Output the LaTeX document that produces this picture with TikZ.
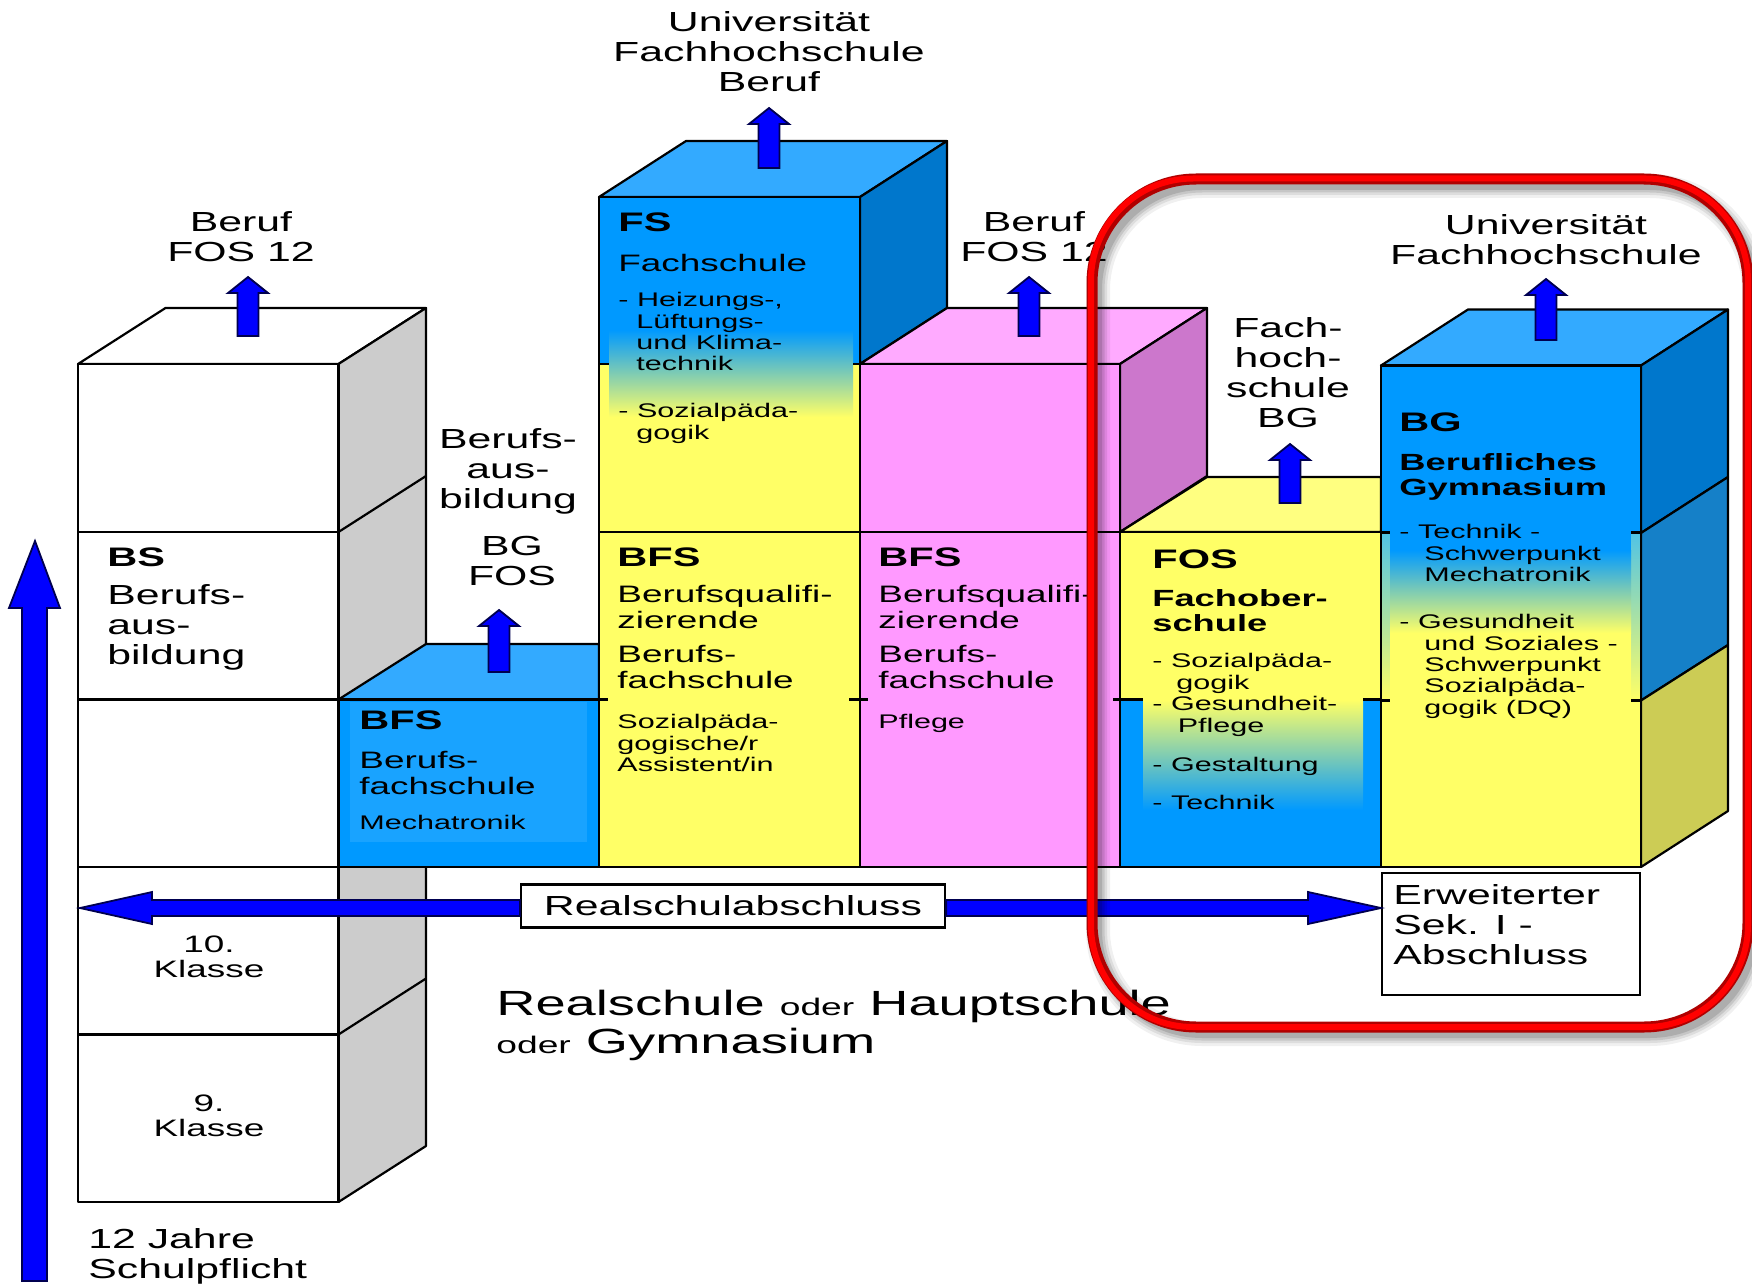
\documentclass[tikz,border=0pt]{standalone}
\usepackage{fontspec}
\setmainfont[FakeStretch=1.55]{Liberation Sans}
\definecolor{blu}{HTML}{0099FF}
\definecolor{blutop}{HTML}{33AAFF}
\definecolor{bluside}{HTML}{0077CC}
\definecolor{bluside2}{HTML}{1580C8}
\definecolor{yel}{HTML}{FFFF66}
\definecolor{yeltop}{HTML}{FFFF80}
\definecolor{yelside}{HTML}{CCCC55}
\definecolor{pnk}{HTML}{FF99FF}
\definecolor{pnktop}{HTML}{FFAAFF}
\definecolor{pnkside}{HTML}{CC77CC}
\definecolor{gry}{HTML}{CCCCCC}
\definecolor{arrowblue}{HTML}{0000FF}
\definecolor{arrowedge}{HTML}{000050}
\definecolor{framered}{HTML}{FF0000}
\definecolor{framedark}{HTML}{B00000}
\tikzset{
  edge/.style={draw=black,line width=1.1pt,line join=round},
  blockarrow/.style={fill=arrowblue,draw=arrowedge,line width=.9pt,line join=miter},
  big/.style={font=\fontsize{13.8}{15}\selectfont,inner sep=0pt},
  bigc/.style={big,align=center,anchor=north},
  bigl/.style={big,align=left,anchor=north west},
  head/.style={font=\fontsize{13.4}{15}\bfseries\selectfont,inner sep=0pt,anchor=north west},
  boldname/.style={font=\fontsize{11.7}{12.5}\bfseries\selectfont,inner sep=0pt,align=left,anchor=north west},
  medium/.style={font=\fontsize{11.9}{13}\selectfont,inner sep=0pt,align=left,anchor=north west},
  small/.style={font=\fontsize{9.85}{10.7}\selectfont,inner sep=0pt,align=left,anchor=north west},
  klasse/.style={font=\fontsize{11.9}{12.7}\selectfont,inner sep=0pt,align=center,anchor=north},
  title/.style={font=\fontsize{17.5}{19}\selectfont,inner sep=0pt,align=left,anchor=north west},
}
\newcommand{\blkup}[3]{% centre x, tip y, tail y
  \draw[blockarrow] (#1-10.5,#3) -- (#1-10.5,#2+16) -- (#1-20,#2+16) -- (#1,#2)
    -- (#1+20,#2+16) -- (#1+10.5,#2+16) -- (#1+10.5,#3) -- cycle;}
\newcommand{\ind}{\hspace*{9pt}}
\newcommand{\oder}[1]{{\fontsize{12}{12}\selectfont #1}}
\begin{document}
\begin{tikzpicture}[x=0.5pt,y=-0.5pt]
\useasboundingbox (0,0) rectangle (1752,1284);
\fill[white] (0,0) rectangle (1752,1284);

% --- white column
\draw[edge,fill=white] (78,364) -- (165.5,308) -- (426,308) -- (338.5,364) -- cycle;
\draw[edge,fill=gry] (338.5,364) -- (426,308) -- (426,1146) -- (338.5,1202) -- cycle;
\draw[edge,fill=white] (78,364) rectangle (338.5,1202);
\draw[edge] (338.5,532) -- (426,476);
\draw[edge] (338.5,1034.5) -- (426,978.5);
\draw[edge] (78,532) -- (338.5,532);
\draw[edge] (78,699.5) -- (338.5,699.5);
\draw[edge] (78,1034.5) -- (338.5,1034.5);

% --- BFS column 2
\draw[edge,fill=blutop] (338.5,699.5) -- (426,644) -- (599,644) -- (599,699.5) -- cycle;
\draw[edge,fill=blu] (338.5,699.5) rectangle (599,867);
\fill[fill=blu!90!white] (350,702) rectangle (587,842);

% --- FS/BFS column 3
\draw[edge,fill=blutop] (599,197) -- (686,141) -- (947,141) -- (860,197) -- cycle;
\draw[edge,fill=bluside] (860,197) -- (947,141) -- (947,308) -- (860,364) -- cycle;
\fill[blu] (599,197) rectangle (860,364);
\fill[yel] (599,364) rectangle (860,867);
\fill[top color=blu,bottom color=yel] (609,330) rectangle (853,417);
\draw[edge] (599,197) rectangle (860,867);
\draw[edge] (599,364) -- (609,364) (853,364) -- (860,364);
\draw[edge] (599,532) -- (860,532);
\draw[edge] (599,699.5) -- (608,699.5) (849,699.5) -- (860,699.5);

% --- pink column 4
\draw[edge,fill=pnktop] (860,364) -- (947,308) -- (1207,308) -- (1120,364) -- cycle;
\draw[edge,fill=pnkside] (1120,364) -- (1207,308) -- (1207,476) -- (1120,532) -- cycle;
\draw[edge,fill=pnk] (860,364) rectangle (1120,867);
\draw[edge] (860,532) -- (1120,532);
\draw[edge] (860,699.5) -- (868,699.5) (1113,699.5) -- (1120,699.5);

% --- FOS column 5
\draw[edge,fill=yeltop] (1120,532) -- (1207,477) -- (1381,477) -- (1381,532) -- cycle;
\fill[yel] (1120,532) rectangle (1381,699.5);
\fill[blu] (1120,699.5) rectangle (1381,867);
\fill[top color=yel,bottom color=blu] (1143,700) rectangle (1363,810);
\draw[edge] (1120,532) rectangle (1381,867);
\draw[edge] (1120,699.5) -- (1143,699.5) (1363,699.5) -- (1381,699.5);

% --- BG column 6
\draw[edge,fill=blutop] (1381,365.5) -- (1468,309.5) -- (1728,309.5) -- (1641,365.5) -- cycle;
\draw[fill=bluside,edge] (1641,365.5) -- (1728,309.5) -- (1728,477) -- (1641,533) -- cycle;
\draw[fill=bluside2,edge] (1641,533) -- (1728,477) -- (1728,645) -- (1641,700.5) -- cycle;
\draw[fill=yelside,edge] (1641,700.5) -- (1728,645) -- (1728,811) -- (1641,867) -- cycle;
\fill[blu] (1381,365.5) rectangle (1641,533);
\fill[yel] (1381,700) rectangle (1641,867);
\fill[top color=blu!65!white!90!green,bottom color=yel] (1381,533) rectangle (1641,700);
\fill[blu] (1390,533) rectangle (1631,550);
\fill[top color=blu,bottom color=yel] (1390,550) rectangle (1631,633);
\fill[yel] (1390,633) rectangle (1631,700);
\draw[edge] (1381,365.5) rectangle (1641,867);
\draw[edge] (1381,532.5) -- (1390,532.5) (1631,532.5) -- (1641,532.5);
\draw[edge] (1381,700.5) -- (1390,700.5) (1631,700.5) -- (1641,700.5);
\draw[edge] (78,867) -- (1641,867);

% --- block arrows
\blkup{769}{108}{168}
\blkup{248}{277}{336}
\blkup{499}{610}{672}
\blkup{1029}{277}{336}
\blkup{1290}{444}{503}
\blkup{1546}{279}{340}
\draw[blockarrow] (22,1281) -- (22,608) -- (9,608) -- (35,541) -- (60,608) -- (47,608) -- (47,1281) -- cycle;

% --- boxes and horizontal arrows
\node[big,draw=black,line width=1.1pt,fill=white,minimum width=424pt/2,minimum height=43pt/2] (rs) at (733,906) {Realschulabschluss};
\node[draw=black,line width=1.1pt,fill=white,inner sep=0pt,minimum width=129pt,minimum height=61pt] (sek) at (1511,934) {};
\draw[blockarrow] (rs.west |- 0,900) -- (152,900) -- (152,892) -- (80,908) -- (152,924) -- (152,916) -- (rs.west |- 0,916) -- cycle;
\draw[blockarrow] (rs.east |- 0,900) -- (1308,900) -- (1308,892) -- (sek.west |- 0,908) -- (1308,924) -- (1308,916) -- (rs.east |- 0,916) -- cycle;

% --- texts above columns
\node[bigc] (t1) at (769,11) {Universität\\Fachhochschule\\Beruf};
\node[bigc] (t2) at (241,211) {Beruf\\FOS 12};
\node[bigc] (t3) at (508,428) {Berufs-\\aus-\\bildung};
\node[bigc] (t4) at (512,536) {BG\\FOS};
\node[bigc] (t5) at (1034,211) {Beruf\\FOS 12};
\node[bigc] (t6) at (1546,214) {Universität\\Fachhochschule};
\node[bigc] (t7) at (1288,317) {Fach-\\hoch-\\schule\\BG};

% --- column 1
\node[head] (bs) at (107,547) {BS};
\node[bigl] (bsn) at (107,584) {Berufs-\\aus-\\bildung};
\node[klasse] (k10) at (209,935) {10.\\Klasse};
\node[klasse] (k9) at (209,1094) {9.\\Klasse};
\node[bigl] (pfl) at (88,1228) {12 Jahre\\Schulpflicht};

% --- column 2
\node[head] (bfsa) at (359,710) {BFS};
\node[medium] (bfsan) at (359,751) {Berufs-\\fachschule};
\node[small] (bfsam) at (359,815) {Mechatronik};

% --- column 3
\node[head] (fs) at (618,212) {FS};
\node[medium] (fsn) at (618,254) {Fachschule};
\node[small] (fsa) at (618,292) {- Heizungs-,\\\ind Lüftungs-\\\ind und Klima-\\\ind technik};
\node[small] (fsb) at (618,403) {- Sozialpäda-\\\ind gogik};
\node[head] (bfsb) at (617,547) {BFS};
\node[medium] (bfsbn) at (617,585) {Berufsqualifi-\\zierende};
\node[medium] (bfsbf) at (617,645) {Berufs-\\fachschule};
\node[small] (bfsbs) at (617,714) {Sozialpäda-\\gogische/r\\Assistent/in};

% --- column 4
\node[head] (bfsc) at (878,547) {BFS};
\node[medium] (bfscn) at (878,585) {Berufsqualifi-\\zierende};
\node[medium] (bfscf) at (878,645) {Berufs-\\fachschule};
\node[small] (bfscs) at (878,714) {Pflege};

% --- column 5
\node[head] (fos) at (1152,549) {FOS};
\node[boldname] (fosn) at (1152,589) {Fachober-\\schule};
\node[small] (fosa) at (1152,653) {- Sozialpäda-\\\ind\hspace*{3pt}gogik};
\node[small] (fosb) at (1152,696) {- Gesundheit-\\\ind\hspace*{3.7pt}Pflege};
\node[small] (fosc) at (1152,757) {- Gestaltung};
\node[small] (fosd) at (1152,795) {- Technik};

% --- column 6
\node[head] (bg) at (1399,412) {BG};
\node[boldname] (bgn) at (1399,453) {Berufliches\\Gymnasium};
\node[small] (bga) at (1399,524) {- Technik -\\\ind\hspace*{3.5pt}Schwerpunkt\\\ind\hspace*{3.5pt}Mechatronik};
\node[small] (bgb) at (1399,614) {- Gesundheit\\\ind\hspace*{3.5pt}und Soziales -\\\ind\hspace*{3.5pt}Schwerpunkt\\\ind\hspace*{3.5pt}Sozialpäda-\\\ind\hspace*{3.5pt}gogik (DQ)};

% --- bottom texts
\node[bigl] (er) at (1393,884) {Erweiterter\\Sek. I -\\Abschluss};
\node[title] (ti) at (496,990) {Realschule \oder{oder} Hauptschule\\\oder{oder} Gymnasium};

% --- red frame
\foreach \w/\o in {24/.06,18/.08,13/.1,8/.12}{
  \draw[black,opacity=\o,line width=\w*.5pt,rounded corners=52pt] (1098,186) rectangle (1754,1034);
}
\draw[framedark,line width=5.5pt,rounded corners=52pt] (1092,179) rectangle (1748,1027);
\draw[framered,line width=3pt,rounded corners=51pt] (1091,178.5) rectangle (1748,1027);
\end{tikzpicture}
\end{document}
